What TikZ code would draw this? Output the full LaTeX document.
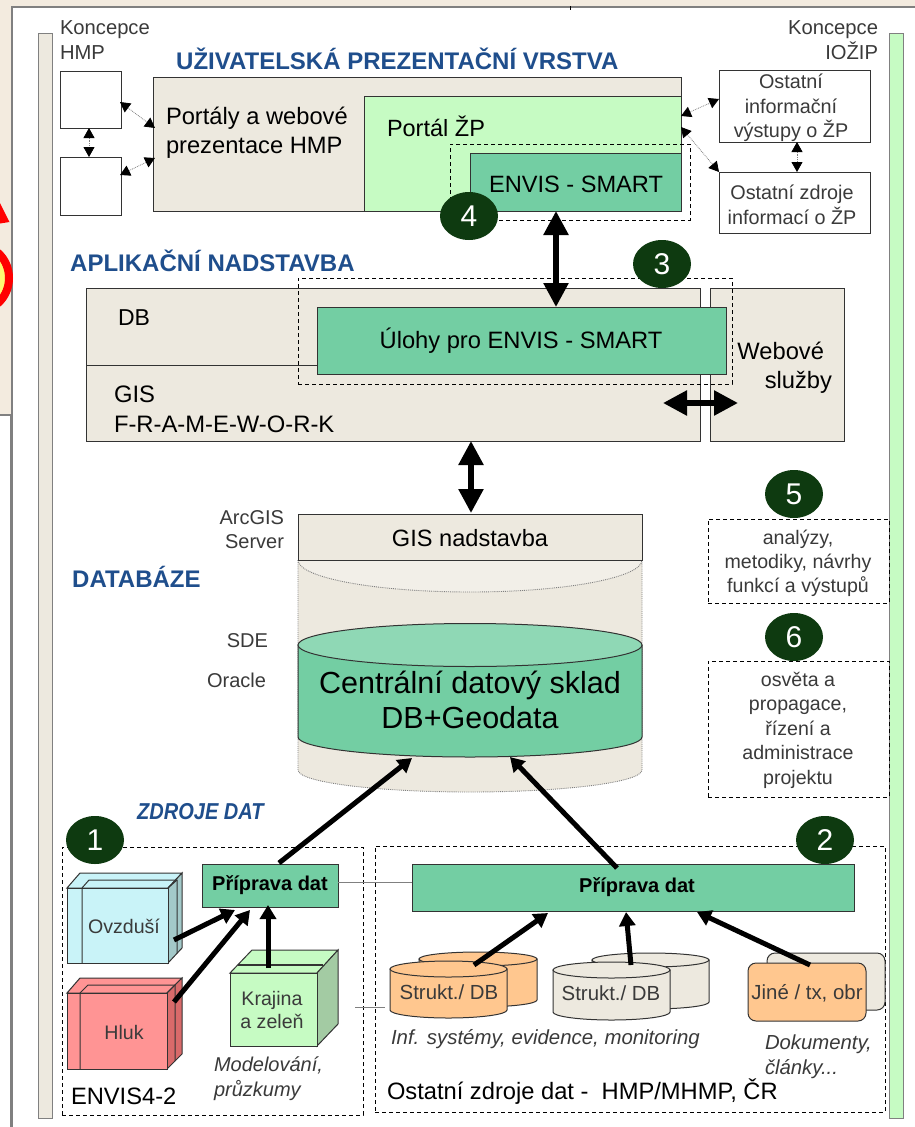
\documentclass[tikz,border=0pt]{standalone}
\usepackage{fontspec}
\setmainfont{Liberation Sans}
\usetikzlibrary{arrows.meta,shapes.geometric}
\definecolor{panel}{HTML}{F3EBDF}
\definecolor{beige}{HTML}{EDE9DF}
\definecolor{lens}{HTML}{F2EFE8}
\definecolor{lgreen}{HTML}{C6FBC3}
\definecolor{teal}{HTML}{73CEA3}
\definecolor{tealtop}{HTML}{8FD8B5}
\definecolor{dark}{HTML}{0E3A10}
\definecolor{head}{HTML}{1F4E8C}
\definecolor{edge}{HTML}{333333}
\definecolor{orng}{HTML}{FFC78F}
\definecolor{bluef}{HTML}{C9F3F8}
\definecolor{blues}{HTML}{A3C9C9}
\definecolor{redf}{HTML}{FF9494}
\definecolor{reds}{HTML}{D96A6A}
\definecolor{greens}{HTML}{A3CBA3}
\definecolor{soft}{HTML}{3A3A3A}
\newcommand{\fs}[2]{\fontsize{#1}{#2}\selectfont}
\newcommand{\bx}[6]{\pgfmathsetmacro\bw{#4-#2}\pgfmathsetmacro\bh{#5-#3}%
 \node[#6,minimum width=\bw pt,minimum height=\bh pt,inner sep=0pt,outer sep=0pt,anchor=north west] (#1) at (#2,#3) {};}
\tikzset{
 x=1pt,y=-1pt,
 solidbox/.style={draw=edge,line width=1pt},
 dashbox/.style={draw=black,line width=.8pt,dash pattern=on 4pt off 3pt},
 badge/.style={ellipse,fill=dark,text=white,minimum width=58pt,minimum height=48pt,inner sep=0pt,font=\fs{30}{30}},
 txt/.style={inner sep=0pt,outer sep=0pt,align=center,text=black},
 note/.style={txt,text=soft},
 heading/.style={inner sep=0pt,anchor=west,text=head,font=\bfseries\fs{24}{24}},
 thinarrow/.style={draw=gray,line width=.8pt,densely dotted,{Triangle[width=11pt,length=10pt,black]}-{Triangle[width=11pt,length=10pt,black]}},
 bigboth/.style={line width=5.5pt,{Triangle[width=24pt,length=24pt]}-{Triangle[width=24pt,length=24pt]}},
 flow/.style={line width=5pt,-{Triangle[width=16pt,length=14pt]}},
 link/.style={draw=gray,line width=1pt},
}
\begin{document}
\begin{tikzpicture}
\useasboundingbox (0,0) rectangle (915,1127);
\clip (0,0) rectangle (915,1127);
% page background
\fill[panel] (0,0) rectangle (915,6);
\fill[panel] (0,0) rectangle (12,415);
\fill[white] (12,8) rectangle (915,1127);
\fill[white] (0,416) rectangle (12,1127);
\draw[gray,line width=2.5pt] (915,7) -- (12,7) -- (12,415) -- (0,415);
\draw[gray,line width=3pt] (11,415) -- (11,1127);
\fill[red] (0,203) -- (9.5,222) -- (0,223.5) -- cycle;
\draw[red,line width=8pt,fill=yellow!55] (-20,278) ellipse [x radius=29,y radius=32];
\fill[black] (569.5,6) rectangle (571,10);
% side bars
\bx{barl}{38}{33}{52}{1118}{draw=gray,line width=1pt,fill=beige}
\bx{barr}{889}{33}{903}{1118}{draw=gray,line width=1pt,fill=lgreen}
% top layer
\node[note,anchor=north west,align=left,font=\fs{20.2}{24.5}] (kh) at (60,21) {Koncepce\\HMP};
\node[note,anchor=north east,align=right,font=\fs{20.2}{24.5}] (ki) at (878,21) {Koncepce\\IOŽIP};
\node[heading] (h1) at (176,59) {UŽIVATELSKÁ PREZENTAČNÍ VRSTVA};
\bx{w1}{60}{71}{121}{128}{solidbox,fill=white}
\bx{w2}{60}{157}{121}{215}{solidbox,fill=white}
\bx{portaly}{153}{77}{681}{211}{solidbox,fill=beige}
\bx{portal}{364}{96}{681}{211}{solidbox,fill=lgreen}
\bx{smartbox}{470}{153}{681}{211}{solidbox,fill=teal}
\bx{dash4}{450}{144}{690}{220}{dashbox}
\node[txt,anchor=north west,align=left,font=\fs{23.7}{29}] (tp) at (166,107) {Portály a webové\\prezentace HMP};
\node[txt,anchor=west,font=\fs{23.5}{29}] (tpz) at (387,126) {Portál ŽP};
\node[txt,font=\fs{23.6}{29}] (tsm) at (576,184) {ENVIS - SMART};
\node[badge] (b4) at (469,216) {4};
\bx{r1}{719}{70}{870}{142}{solidbox,fill=white}
\bx{r2}{719}{172}{870}{233}{solidbox,fill=white}
\node[note,font=\fs{19.8}{24.5}] (tr1) at (791,108) {Ostatní\\informační\\výstupy o ŽP};
\node[note,font=\fs{19.8}{25}] (tr2) at (792,205) {Ostatní zdroje\\informací o ŽP};
\coordinate (w1r) at (120,102); \coordinate (w2r) at (120,175);
\coordinate (pl1) at (155,128); \coordinate (pl2) at (155,158);
\coordinate (pr1) at (681,116); \coordinate (pr2) at (681,127);
\coordinate (r1l) at (719,99); \coordinate (r2l) at (719,172);
\draw[thinarrow] (w1r) -- (pl1);
\draw[thinarrow] (w2r) -- (pl2);
\draw[thinarrow] (w1.south -| 89,0) -- (w2.north -| 89,0);
\draw[thinarrow] (pr1) -- (r1l);
\draw[thinarrow] (pr2) -- (r2l);
\draw[thinarrow] (r1.south -| 797,0) -- (r2.north -| 797,0);
% application layer
\node[heading] (h2) at (70,261) {APLIKAČNÍ NADSTAVBA};
\bx{app}{86}{288}{700}{441}{solidbox,fill=beige}
\bx{web}{710}{288}{844}{441}{solidbox,fill=beige}
\coordinate (appl) at (86,365);
\bx{ulohy}{317}{307}{726}{374}{solidbox,fill=teal}
\draw[edge,line width=1pt] (appl) -- (ulohy.west |- appl);
\bx{dash3}{298}{278}{732}{384}{dashbox}
\node[badge] (b3) at (662,264) {3};
\node[txt,font=\fs{23.7}{29}] (tul) at (521,341) {Úlohy pro ENVIS - SMART};
\node[txt,anchor=west,font=\fs{23}{29}] (tdb) at (118,318) {DB};
\node[txt,anchor=north west,align=left,font=\fs{23.8}{30}] (tgis) at (114,386) {GIS\\F-R-A-M-E-W-O-R-K};
\node[txt,anchor=north east,align=right,font=\fs{23.7}{29}] (tweb) at (832,342) {Webové\hspace*{8pt}\\služby};
\draw[bigboth] (smartbox.south -| 556,0) -- (ulohy.north -| 556,0);
\draw[bigboth] (663,403) -- (738,403);
\coordinate (dbup) at (471,513);
\draw[bigboth] (app.south -| dbup) -- (dbup);
% database
\node[heading] (h3) at (72,577) {DATABÁZE};
\node[note,anchor=north east,align=right,font=\fs{20}{24}] (tag) at (284,511) {ArcGIS\\Server};
\node[note,anchor=east,font=\fs{20}{24}] (tsde) at (268,641) {SDE};
\node[note,anchor=east,font=\fs{20}{24}] (tor) at (266,680) {Oracle};
\path[fill=beige] (298,560) -- (298,770) arc[start angle=180,end angle=0,x radius=172,y radius=22] -- (642,560) -- cycle;
\draw[gray,line width=.9pt,densely dotted] (298,560) -- (298,770) arc[start angle=180,end angle=0,x radius=172,y radius=22] -- (642,560);
\path[fill=lens] (298,560) arc[start angle=180,end angle=0,x radius=172,y radius=32] -- cycle;
\draw[gray,line width=.9pt,densely dotted] (298,560) arc[start angle=180,end angle=0,x radius=172,y radius=32];
\bx{gisn}{298}{514}{642}{560}{solidbox,fill=beige}
\node[txt,font=\fs{23.6}{29}] (tgn) at (470,538) {GIS nadstavba};
\path[fill=teal,draw=edge,line width=1pt] (298,645) -- (298,737) arc[start angle=180,end angle=0,x radius=172,y radius=20] -- (642,645) -- cycle;
\node[ellipse,fill=tealtop,draw=edge,line width=1pt,minimum width=344pt,minimum height=43pt,inner sep=0pt,outer sep=0pt] (cdsl) at (470,645) {};
\node[txt,font=\fs{30.5}{35}] (cds) at (470,700) {Centrální datový sklad\\DB+Geodata};
\coordinate (cin1) at (412,758); \coordinate (cin2) at (510,757);
% right notes
\bx{d5}{708}{519}{889}{603}{dashbox}
\bx{d6}{708}{661}{889}{797}{dashbox}
\node[badge] (b5) at (794,494) {5};
\node[badge] (b6) at (794,637) {6};
\node[note,font=\fs{19.6}{24}] (t5) at (798,563) {analýzy,\\metodiky, návrhy\\funkcí a výstupů};
\node[note,font=\fs{19.6}{24.5}] (t6) at (798,730) {osvěta a\\propagace,\\řízení a\\administrace\\projektu};
% sources
\node[heading,font=\bfseries\itshape\fs{23}{24}] (h4) at (137,812) {\scalebox{.87}[1]{ZDROJE DAT}};
\bx{d1}{62}{847}{363}{1115}{dashbox}
\bx{d2}{375}{846}{885}{1112}{dashbox}
\node[badge] (b1) at (95,840) {1};
\node[badge] (b2) at (825,840) {2};
\bx{p1}{202}{864}{338}{907}{solidbox,fill=teal}
\bx{p2}{412}{864}{854}{911}{solidbox,fill=teal}
\node[txt,font=\bfseries\fs{20}{24}] (tp1) at (p1.center) {Příprava dat};
\node[txt,font=\bfseries\fs{20}{24}] (tp2) at (637,887) {Příprava dat};
\coordinate (pj) at (338,882);
\draw[link] (pj) -- (p2.west |- pj);
\coordinate (tk1) at (355,1007); \coordinate (tk2) at (385,1007);
\draw[link] (tk1) -- (tk2);
% cube: Ovzdusi
\draw[edge,line width=1pt,fill=bluef] (67,888) -- (80,873) -- (182,873) -- (168,888) -- cycle;
\draw[edge,line width=1pt,fill=blues] (168,888) -- (182,873) -- (182,948) -- (168,963) -- cycle;
\bx{ovz}{67}{888}{168}{963}{solidbox,fill=bluef}
\draw[edge,line width=1pt] (82,963) -- (82,888) -- (89,880) -- (177,880) -- (177,953);
\draw[edge,line width=1pt] (168,888) -- (177,880);
\node[note,font=\fs{19.6}{24}] (tov) at (124,926) {Ovzduší};
% cube: Hluk
\draw[edge,line width=1pt,fill=redf] (67,993) -- (80,978) -- (182,978) -- (167,993) -- cycle;
\draw[edge,line width=1pt,fill=reds] (167,993) -- (182,978) -- (182,1054) -- (167,1069) -- cycle;
\bx{hluk}{67}{993}{167}{1069}{solidbox,fill=redf}
\draw[edge,line width=1pt] (80,1069) -- (80,993) -- (88,985) -- (175,985) -- (175,1061);
\draw[edge,line width=1pt] (167,993) -- (175,985);
\node[note,font=\fs{19.6}{24}] (thl) at (124,1032) {Hluk};
% cube: Krajina
\draw[edge,line width=1pt,fill=lgreen] (230,973) -- (252,950) -- (338,950) -- (317,973) -- cycle;
\draw[edge,line width=1pt,fill=greens] (317,973) -- (338,950) -- (338,1024) -- (317,1046) -- cycle;
\bx{kraj}{230}{973}{317}{1046}{solidbox,fill=lgreen}
\draw[edge,line width=1.6pt] (238,965) -- (323,965);
\node[note,font=\fs{19.6}{23}] (tkr) at (272,1010) {Krajina\\a zeleň};
\node[note,anchor=north west,align=left,font=\itshape\fs{20}{24.5}] (tm) at (214,1057) {Modelování,\\průzkumy};
\node[txt,anchor=west,font=\fs{23.7}{29}] (te) at (71,1096) {ENVIS4-2};
% cylinders
\newcommand{\cyl}[7]{% name x1 x2 ytop ybot ry fill
 \pgfmathsetmacro\crx{(#3-#2)/2}\pgfmathsetmacro\cxm{(#3+#2)/2}\pgfmathsetmacro\cyt{#4+#6}%
 \path[draw=edge,line width=1pt,fill=#7] (#2,\cyt) -- (#2,#5) arc[start angle=180,end angle=0,x radius=\crx,y radius=#6] -- (#3,\cyt) -- cycle;
 \draw[edge,line width=1pt,fill=#7] (\cxm,\cyt) ellipse [x radius=\crx,y radius=#6];
 \coordinate (#1) at (\cxm,\cyt);}
\cyl{ca0}{419}{537}{952}{1000}{7}{orng}
\cyl{ca}{390}{507}{961}{1010}{8}{orng}
\cyl{cb0}{592}{709}{953}{1002}{7}{beige}
\cyl{cb}{553}{670}{962}{1012}{8}{beige}
\draw[edge,line width=1pt,fill=beige,rounded corners=8pt] (767,953) rectangle (885,1010);
\draw[edge,line width=1pt,fill=orng,rounded corners=8pt] (748,963) rectangle (866,1021);
\node[note,font=\fs{20.4}{24}] (tca) at (449,992) {Strukt./ DB};
\node[note,font=\fs{20.4}{24}] (tcb) at (611,993) {Strukt./ DB};
\node[note,font=\fs{20.4}{24}] (tdc) at (807,993) {Jiné / tx, obr};
\node[note,anchor=west,font=\itshape\fs{20.4}{24}] (tinf) at (391,1039) {Inf. systémy, evidence, monitoring};
\node[note,anchor=north west,align=left,font=\itshape\fs{20.3}{25}] (tdok) at (765,1035) {Dokumenty,\\články...};
\node[txt,anchor=west,font=\fs{23.7}{29}] (tost) at (387,1092) {Ostatní zdroje dat -\ \ HMP/MHMP, ČR};
% flow arrows
\coordinate (fa1) at (174,940); \coordinate (fa2) at (235,910);
\coordinate (fb1) at (174,1002); \coordinate (fb2) at (250,910);
\coordinate (fc1) at (268,968); \coordinate (fc2) at (268,905);
\coordinate (fd1) at (474,965); \coordinate (fd2) at (548,913);
\coordinate (fe1) at (631,965); \coordinate (fe2) at (626,912);
\coordinate (ff1) at (810,965); \coordinate (ff2) at (697,912);
\coordinate (fg1) at (279,863); \coordinate (fh1) at (617,868);
\draw[flow] (fa1) -- (fa2);
\draw[flow] (fb1) -- (fb2);
\draw[flow] (fc1) -- (fc2);
\draw[flow] (fd1) -- (fd2);
\draw[flow] (fe1) -- (fe2);
\draw[flow] (ff1) -- (ff2);
\draw[flow] (fg1) -- (cin1);
\draw[flow] (fh1) -- (cin2);
\end{tikzpicture}
\end{document}
